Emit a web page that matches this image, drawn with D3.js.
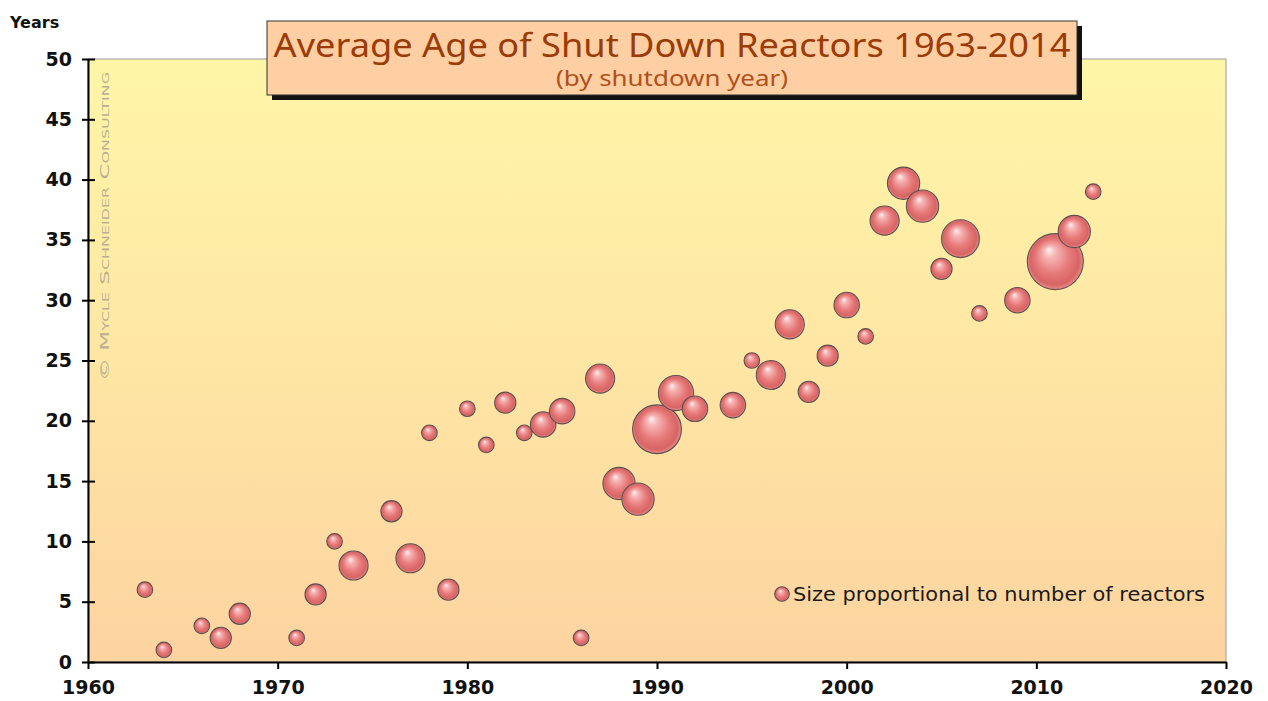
<!DOCTYPE html>
<html>
<head>
<meta charset="utf-8">
<script src="https://cdn.jsdelivr.net/npm/d3@7/dist/d3.min.js"></script>
<style>
  html, body { margin: 0; padding: 0; background: #fff; }
  svg { display: block; }
</style>
</head>
<body>
<svg id="chart" width="1268" height="701"></svg>
<script>
// data: shutdown year, average age (years), reactors shut down that year
var years = [1963, 1964, 1966, 1967, 1968, 1971, 1972, 1973, 1974, 1976,
             1977, 1978, 1979, 1980, 1981, 1982, 1983, 1984, 1985, 1986,
             1987, 1988, 1989, 1990, 1991, 1992, 1994, 1995, 1996, 1997,
             1998, 1999, 2000, 2001, 2002, 2003, 2004, 2005, 2006, 2007,
             2009, 2011, 2012, 2013];
var ages = [6, 1, 3, 2, 4, 2, 5.6, 10, 8, 12.5,
            8.6, 19, 6, 21, 18, 21.5, 19, 19.7, 20.8, 2,
            23.5, 14.8, 13.5, 19.3, 22.3, 21, 21.3, 25, 23.8, 28,
            22.4, 25.4, 29.6, 27, 36.6, 39.7, 37.8, 32.6, 35.1, 28.9,
            30, 33.2, 35.7, 39];
var reactors = [1, 1, 1, 2, 2, 1, 2, 1, 4, 2,
                4, 1, 2, 1, 1, 2, 1, 3, 3, 1,
                4, 5, 5, 12, 6, 3, 3, 1, 4, 4,
                2, 2, 3, 1, 4, 5, 5, 2, 7, 1,
                3, 16, 5, 1];
var xTicks = [1960, 1970, 1980, 1990, 2000, 2010, 2020];
var yTicks = [0, 5, 10, 15, 20, 25, 30, 35, 40, 45, 50];

var title = "Average Age of Shut Down Reactors 1963-2014";
var subtitle = "(by shutdown year)";
var legendText = "Size proportional to number of reactors";
var watermark = "© Mycle Schneider Consulting";

(function() {
    var points = years.map(function(d, i) {
        return { year: d, age: ages[i], n: reactors[i] };
    });

    var svg = d3.select("#chart")
      , m = { left: 88, right: 1226, top: 59, bottom: 662 }
      , x = d3.scaleLinear().domain([1960, 2020]).range([m.left, m.right])
      , y = d3.scaleLinear().domain([0, 50]).range([m.bottom, m.top])
      , r = d3.scaleSqrt().domain([1, 16]).range([7.8, 28])
      , axisFont = "'DejaVu Sans', Verdana, sans-serif"
    ;

    var defs = svg.append("defs");

    var bg = defs.append("linearGradient")
        .attr("id", "bg").attr("x1", 0).attr("y1", 0).attr("x2", 0).attr("y2", 1);
    bg.append("stop").attr("offset", "0%").attr("stop-color", "#fff6a8");
    bg.append("stop").attr("offset", "50%").attr("stop-color", "#fee6a4");
    bg.append("stop").attr("offset", "100%").attr("stop-color", "#fdd3a0");

    var ball = defs.append("radialGradient")
        .attr("id", "ball").attr("cx", "50%").attr("cy", "50%").attr("r", "50%")
        .attr("fx", "38%").attr("fy", "28%");
    ball.append("stop").attr("offset", "0%").attr("stop-color", "#fff2f2");
    ball.append("stop").attr("offset", "22%").attr("stop-color", "#f6b4b4");
    ball.append("stop").attr("offset", "60%").attr("stop-color", "#e77a7a");
    ball.append("stop").attr("offset", "88%").attr("stop-color", "#d86464");
    ball.append("stop").attr("offset", "100%").attr("stop-color", "#ea8d8d");

    // plot background
    svg.append("rect")
        .attr("x", m.left).attr("y", m.top)
        .attr("width", m.right - m.left).attr("height", m.bottom - m.top)
        .attr("fill", "url(#bg)")
        .attr("stroke", "#a9a9a9").attr("stroke-width", 1.2);

    // watermark
    svg.append("text")
        .attr("transform", "translate(109,381) rotate(-90)")
        .attr("font-family", "'DejaVu Sans', sans-serif")
        .attr("font-size", 13)
        .attr("font-variant", "small-caps")
        .attr("fill", "#b9af92")
        .attr("textLength", 309).attr("lengthAdjust", "spacingAndGlyphs")
        .text(watermark);

    // bubbles, in year order so later years sit on top
    svg.append("g").attr("class", "bubbles")
      .selectAll("circle")
      .data(points)
      .enter().append("circle")
        .attr("cx", function(d) { return x(d.year); })
        .attr("cy", function(d) { return y(d.age); })
        .attr("r", function(d) { return r(d.n); })
        .attr("fill", "url(#ball)")
        .attr("stroke", "#5a5050").attr("stroke-width", 1.1)
    ;

    // axes
    var yAxis = svg.append("g")
        .attr("transform", "translate(" + m.left + ",0)")
        .call(d3.axisLeft(y).tickValues(yTicks).tickSize(6).tickPadding(10).tickSizeOuter(0));
    yAxis.selectAll(".tick line").attr("x1", 7).attr("stroke-width", 2);
    yAxis.select(".domain").attr("stroke-width", 2);

    var xAxis = svg.append("g")
        .attr("transform", "translate(0," + m.bottom + ")")
        .call(d3.axisBottom(x).tickValues(xTicks).tickFormat(d3.format("d"))
            .tickSize(7).tickPadding(12).tickSizeOuter(0));
    xAxis.selectAll(".tick line").attr("stroke-width", 2);
    xAxis.select(".domain").attr("stroke-width", 2);

    svg.selectAll(".tick text")
        .attr("font-family", axisFont)
        .attr("font-weight", "bold")
        .attr("font-size", 19)
        .attr("fill", "#111");

    svg.append("text")
        .attr("x", 10).attr("y", 28)
        .attr("font-family", axisFont).attr("font-weight", "bold")
        .attr("font-size", 16).attr("fill", "#111")
        .text("Years");

    // title box with drop shadow
    var tb = { x: 267, y: 21, w: 810, h: 74 };
    svg.append("rect")
        .attr("x", tb.x + 5).attr("y", tb.y + 5)
        .attr("width", tb.w).attr("height", tb.h)
        .attr("fill", "#111");
    svg.append("rect")
        .attr("x", tb.x).attr("y", tb.y)
        .attr("width", tb.w).attr("height", tb.h)
        .attr("fill", "#fdcfa2").attr("stroke", "#333").attr("stroke-width", 1);
    svg.append("text")
        .attr("x", tb.x + tb.w / 2).attr("y", 57)
        .attr("text-anchor", "middle")
        .attr("font-family", "'Noto Sans', 'Open Sans', sans-serif")
        .attr("font-size", 32)
        .attr("fill", "#9c3a08")
        .attr("textLength", 797).attr("lengthAdjust", "spacingAndGlyphs")
        .text(title);
    svg.append("text")
        .attr("x", tb.x + tb.w / 2).attr("y", 86)
        .attr("text-anchor", "middle")
        .attr("font-family", "'Noto Sans', 'Open Sans', sans-serif")
        .attr("font-size", 21)
        .attr("fill", "#b2501c")
        .attr("textLength", 232).attr("lengthAdjust", "spacingAndGlyphs")
        .text(subtitle);

    // legend
    svg.append("circle")
        .attr("cx", 782).attr("cy", 594).attr("r", r(1) - 0.5)
        .attr("fill", "url(#ball)")
        .attr("stroke", "#5a5050").attr("stroke-width", 1.1);
    svg.append("text")
        .attr("x", 793).attr("y", 601)
        .attr("font-family", "'DejaVu Sans', sans-serif")
        .attr("font-size", 19)
        .attr("fill", "#1a1a1a")
        .attr("textLength", 412).attr("lengthAdjust", "spacingAndGlyphs")
        .text(legendText);
})();
</script>
</body>
</html>
